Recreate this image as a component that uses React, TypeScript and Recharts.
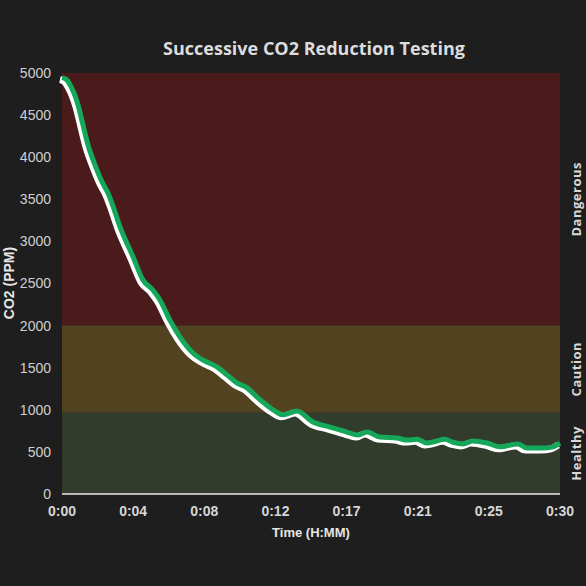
import { LineChart, Line, XAxis, YAxis, ReferenceArea, Label } from 'recharts'

// elapsed time in seconds
const TIME_S = [
  0, 15, 29, 58, 76, 94, 119, 145, 166, 181, 210, 257, 293, 329, 354, 390, 426, 473, 510, 560,
  596, 632, 669, 705, 763, 799, 849, 907, 969, 1030, 1070, 1102, 1149, 1211, 1247, 1283, 1319,
  1341, 1384, 1413, 1449, 1485, 1536, 1583, 1648, 1681, 1738, 1774, 1800,
]
const CO2_PPM = [
  4945, 4925, 4860, 4620, 4380, 4145, 3910, 3705, 3575, 3450, 3170, 2815, 2540, 2420, 2305, 2065,
  1865, 1675, 1590, 1510, 1415, 1320, 1260, 1150, 1000, 940, 985, 855, 795, 735, 700, 735, 677,
  665, 640, 650, 605, 618, 650, 615, 595, 630, 605, 560, 595, 545, 545, 560, 605,
]
const Y_TICKS = [0, 500, 1000, 1500, 2000, 2500, 3000, 3500, 4000, 4500, 5000]
const X_TICKS = [0, 1, 2, 3, 4, 5, 6, 7].map(i => (i * 1800) / 7)

const ZONES = [
  { name: 'Dangerous', from: 2000, to: 5000, color: '#4b1b1c' },
  { name: 'Caution', from: 965, to: 2000, color: '#524220' },
  { name: 'Healthy', from: 0, to: 965, color: '#323c2d' },
]

const data = TIME_S.map((t, i) => ({ t, ppm: CO2_PPM[i] }))

const fmtTime = (s: number) => {
  const m = Math.floor(s / 60 + 1e-6)
  const h = Math.floor(m / 60)
  return `${h}:${String(m % 60).padStart(2, '0')}`
}

function ZoneLabel(props: any) {
  const { viewBox, text } = props
  const cx = 576
  const cy = viewBox.y + viewBox.height / 2
  return (
    <text
      x={cx}
      y={cy}
      transform={`rotate(-90 ${cx} ${cy})`}
      textAnchor="middle"
      dominantBaseline="central"
      fill="#d8d8d8"
      fontSize={13}
      fontWeight={700}
      fontFamily="'Open Sans', sans-serif"
      letterSpacing={0.5}
    >
      {text}
    </text>
  )
}

function YLabel() {
  return (
    <text
      x={9}
      y={283}
      transform="rotate(-90 9 283)"
      textAnchor="middle"
      dominantBaseline="central"
      fill="#e6e6e6"
      fontSize={14}
      fontWeight={700}
      fontFamily="'Liberation Sans', Arial, sans-serif"
    >
      CO2 (PPM)
    </text>
  )
}

export default function App() {
  return (
    <div
      style={{
        position: 'fixed', left: 0, top: 0, width: 586, height: 586,
        background: '#1e1e1e', fontFamily: "'Liberation Sans', Arial, sans-serif",
      }}
    >
      <div
        style={{
          position: 'absolute', top: 36, left: 0, width: 628, textAlign: 'center',
          color: '#dcdcdc', fontSize: 18, fontWeight: 700, fontFamily: "'Open Sans', sans-serif",
        }}
      >
        Successive CO2 Reduction Testing
      </div>
      <LineChart
        width={586}
        height={586}
        data={data}
        margin={{ top: 73, right: 26, bottom: 42, left: 0 }}
      >
        {ZONES.map(z => (
          <ReferenceArea
            key={z.name}
            y1={z.from}
            y2={z.to}
            fill={z.color}
            fillOpacity={1}
            stroke="none"
            label={<ZoneLabel text={z.name} />}
          />
        ))}
        <XAxis
          dataKey="t"
          type="number"
          domain={[0, 1800]}
          ticks={X_TICKS}
          tickFormatter={fmtTime}
          height={50}
          tickLine={false}
          tickSize={0}
          tickMargin={12}
          axisLine={{ stroke: '#e8e8e8', strokeWidth: 1.5 }}
          tick={{ fill: '#d6d6d6', fontSize: 14, fontWeight: 700 }}
        >
          <Label
            value="Time (H:MM)"
            position="insideBottom"
            offset={7}
            fill="#e6e6e6"
            fontSize={13}
            fontWeight={700}
          />
        </XAxis>
        <YAxis
          type="number"
          domain={[0, 5000]}
          ticks={Y_TICKS}
          width={62}
          tickLine={false}
          axisLine={false}
          tickSize={0}
          tickMargin={11}
          tick={{ fill: '#d0d0d0', fontSize: 14 }}
        >
          <Label content={<YLabel />} />
        </YAxis>
        <Line
          dataKey="ppm"
          type="monotone"
          stroke="#ffffff"
          strokeWidth={7}
          dot={false}
          isAnimationActive={false}
          style={{ transform: 'translate(-2px, 2px)' }}
        />
        <Line
          dataKey="ppm"
          type="monotone"
          stroke="#15a85a"
          strokeWidth={5}
          dot={false}
          isAnimationActive={false}
        />
      </LineChart>
    </div>
  )
}
